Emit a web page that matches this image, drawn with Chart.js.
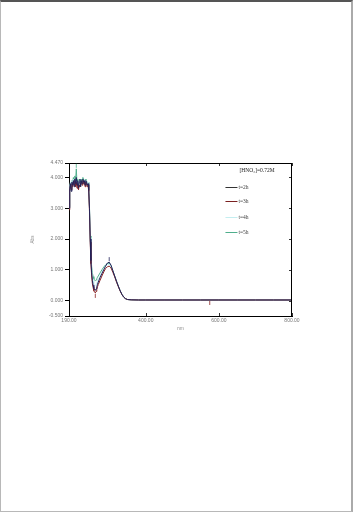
<!DOCTYPE html>
<html>
<head>
<meta charset="utf-8">
<script src="https://cdn.jsdelivr.net/npm/chart.js@4"></script>
<style>
    html, body { margin: 0; padding: 0; background: #fff; }
    #page {
        position: relative;
        width: 353px;
        height: 512px;
        box-sizing: border-box;
        border: 1px solid #b8b8b8;
        border-top: 2px solid #555;
        border-right: 2px solid #aaa;
    }
    #wrap { position: absolute; left: -1px; top: 138px; width: 320px; height: 200px; }
</style>
</head>
<body>
<div id="page">
    <div id="wrap"><canvas id="spectrum"></canvas></div>
</div>
<script>
//-- Data //
const wavelengths = [
    190, 192, 194, 196, 198, 200, 202, 204, 206, 208, 210, 212, 214, 216,
    218, 220, 222, 224, 226, 228, 230, 232, 234, 236, 238, 240, 242, 244,
    246, 248, 250, 252, 254, 256, 258, 260, 262, 264, 266, 268, 270,
    275, 280, 285, 290, 295, 300, 305, 310, 315, 320, 325, 330, 335, 340, 345, 350,
    360, 380, 400, 450, 500, 550, 600, 650, 700, 750, 800
];
const tail = [0.025, 0.02, 0.02, 0.02, 0.02, 0.02, 0.02, 0.02, 0.02, 0.02, 0.02];

const absT2 = [
    3.0, 3.65, 3.8, 3.55, 3.85, 3.75, 3.9, 3.7, 3.95, 3.8, 4.0, 3.75, 3.9, 3.65,
    3.85, 3.95, 3.7, 3.9, 3.8, 3.95, 3.85, 3.9, 3.75, 3.9, 3.85, 3.75, 3.8, 3.6,
    3.0, 2.0, 1.3, 0.9, 0.65, 0.5, 0.4, 0.35, 0.33, 0.38, 0.45, 0.53, 0.6,
    0.75, 0.88, 1.0, 1.12, 1.22, 1.25, 1.15, 0.97, 0.8, 0.63, 0.47, 0.32, 0.2, 0.11, 0.06, 0.035,
    ...tail
];
const absT3 = [
    2.95, 3.6, 3.75, 3.6, 3.8, 3.7, 3.85, 3.75, 3.9, 3.7, 3.85, 3.65, 3.8, 3.6,
    3.75, 3.7, 3.8, 3.85, 3.75, 3.9, 3.8, 3.85, 3.7, 3.85, 3.8, 3.7, 3.75, 3.55,
    2.9, 1.9, 1.2, 0.8, 0.55, 0.42, 0.32, 0.27, 0.25, 0.3, 0.37, 0.45, 0.52,
    0.66, 0.8, 0.93, 1.04, 1.1, 1.12, 1.06, 0.92, 0.77, 0.6, 0.45, 0.31, 0.19, 0.11, 0.06, 0.035,
    ...tail
];
const absT4 = [
    3.0, 3.7, 3.85, 3.6, 3.9, 3.8, 3.95, 3.75, 3.9, 3.85, 3.95, 3.8, 3.85, 3.7,
    3.9, 3.9, 3.75, 3.85, 3.85, 3.9, 3.8, 3.95, 3.8, 3.85, 3.9, 3.8, 3.85, 3.65,
    3.0, 2.05, 1.4, 1.0, 0.78, 0.64, 0.56, 0.52, 0.5, 0.52, 0.57, 0.63, 0.68,
    0.8, 0.92, 1.03, 1.12, 1.17, 1.18, 1.1, 0.95, 0.79, 0.62, 0.46, 0.31, 0.2, 0.11, 0.06, 0.035,
    ...tail
];
const absT5 = [
    3.05, 3.7, 3.8, 3.65, 3.9, 3.8, 4.0, 3.8, 4.05, 3.9, 4.28, 3.8, 3.95, 3.7,
    3.85, 3.9, 3.75, 3.95, 3.85, 4.0, 3.9, 3.9, 3.8, 3.95, 3.9, 3.8, 3.85, 3.65,
    3.05, 2.1, 1.5, 1.1, 0.9, 0.78, 0.7, 0.66, 0.65, 0.67, 0.71, 0.76, 0.8,
    0.9, 1.0, 1.09, 1.16, 1.2, 1.22, 1.13, 0.97, 0.8, 0.63, 0.47, 0.32, 0.2, 0.11, 0.06, 0.035,
    ...tail
];

const seriesLabels = ['t=2h', 't=3h', 't=4h', 't=5h'];
const seriesColors = ['#22225a', '#8b2424', '#c4eef0', '#4fae8c'];
const legendColors = ['#333333', '#7a2020', '#c4eef0', '#4fae8c'];
const legendTitle = '[HNO\u2083]=0.72M';

const xTicks = [190, 400, 600, 800];
const yTicks = [-0.5, 0, 1, 2, 3, 4, 4.47];

// small peak-pick marks: [wavelength, absorbance, color index]
const peakMarks = [
    [210, 4.28, 3],
    [300, 1.25, 0],
    [262, 0.25, 1],
    [575, 0.02, 1]
];

//-- Helpers //
const allAbs = [absT2, absT3, absT4, absT5];
const toPoints = values => wavelengths.map((w, i) => ({ x: w, y: values[i] }));

// frame, inward ticks, legend, peak marks
const framePlugin = {
    id: 'frame',
    afterDatasetsDraw(chart) {
        const { ctx, chartArea: a, scales } = chart;
        const x = scales.x;
        const y = scales.y;
        ctx.save();
        ctx.strokeStyle = '#000';
        ctx.lineWidth = 1;
        ctx.beginPath();
        ctx.moveTo(a.left, a.top + 0.5);
        ctx.lineTo(a.right, a.top + 0.5);
        ctx.moveTo(a.right - 0.5, a.top);
        ctx.lineTo(a.right - 0.5, a.bottom);
        ctx.stroke();

        ctx.lineWidth = 0.8;
        ctx.beginPath();
        for (const t of xTicks) {
            const px = Math.round(x.getPixelForValue(t)) + 0.5;
            ctx.moveTo(px, a.bottom);
            ctx.lineTo(px, a.bottom - 3);
            ctx.moveTo(px, a.top);
            ctx.lineTo(px, a.top + 3);
        }
        for (const t of yTicks) {
            const py = Math.round(y.getPixelForValue(t)) + 0.5;
            ctx.moveTo(a.right, py);
            ctx.lineTo(a.right - 3, py);
        }
        ctx.stroke();

        // peak marks
        for (const [w, v, ci] of peakMarks) {
            const px = x.getPixelForValue(w);
            const py = y.getPixelForValue(v);
            const up = v > 0.5;
            ctx.strokeStyle = seriesColors[ci] === '#c4eef0' ? '#8cc' : seriesColors[ci];
            ctx.beginPath();
            ctx.moveTo(px, py + (up ? -1 : 1));
            ctx.lineTo(px, py + (up ? -5 : 5));
            ctx.stroke();
        }

        // legend
        ctx.fillStyle = '#222';
        ctx.font = '5.5px "Liberation Serif", serif';
        ctx.textBaseline = 'middle';
        ctx.textAlign = 'left';
        const lx = x.getPixelForValue(618);
        ctx.fillText(legendTitle, lx + 14, y.getPixelForValue(4.22));
        const rows = [3.7, 3.22, 2.73, 2.24];
        seriesLabels.forEach((label, i) => {
            const ry = Math.round(y.getPixelForValue(rows[i])) + 0.5;
            ctx.strokeStyle = legendColors[i];
            ctx.lineWidth = 1;
            ctx.beginPath();
            ctx.moveTo(lx, ry);
            ctx.lineTo(lx + 12, ry);
            ctx.stroke();
            ctx.fillStyle = '#444';
            ctx.fillText(label, lx + 13, ry);
        });
        ctx.restore();
    }
};

//-- Chart //
const ctx = document.getElementById('spectrum');

new Chart(ctx, {
    type: 'line',
    data: {
        datasets: allAbs.map((values, i) => ({
            label: seriesLabels[i],
            data: toPoints(values),
            borderColor: seriesColors[i],
            borderWidth: 1,
            pointRadius: 0,
            tension: 0,
            fill: false
        }))
    },
    options: {
        responsive: true,
        maintainAspectRatio: false,
        animation: false,
        events: [],
        layout: { padding: { top: 23, right: 28, bottom: 9, left: 0 } },
        plugins: {
            legend: { display: false },
            tooltip: { enabled: false }
        },
        scales: {
            x: {
                type: 'linear',
                min: 190,
                max: 800,
                afterBuildTicks: scale => {
                    scale.ticks = xTicks.map(v => ({ value: v }));
                },
                afterFit: scale => {
                    scale.height = 15;
                },
                ticks: {
                    color: '#777',
                    font: { family: 'Liberation Sans', size: 5 },
                    padding: 2,
                    maxRotation: 0,
                    callback: v => v.toFixed(2)
                },
                grid: { display: true, drawOnChartArea: false, drawTicks: false },
                border: { color: '#000', width: 1 },
                title: {
                    display: true,
                    text: 'nm',
                    color: '#888',
                    font: { family: 'Liberation Sans', size: 4.5 },
                    padding: { top: 0, bottom: 0 }
                }
            },
            y: {
                min: -0.5,
                max: 4.47,
                afterBuildTicks: scale => {
                    scale.ticks = yTicks.map(v => ({ value: v }));
                },
                afterFit: scale => {
                    scale.width = 69;
                },
                ticks: {
                    color: '#777',
                    font: { family: 'Liberation Sans', size: 5 },
                    padding: 2,
                    callback: v => v.toFixed(3)
                },
                grid: { display: true, drawOnChartArea: false, drawTicks: true, tickLength: 4, color: '#000' },
                border: { color: '#000', width: 1 },
                title: {
                    display: true,
                    text: 'Abs',
                    color: '#888',
                    font: { family: 'Liberation Sans', size: 4.5 },
                    padding: { top: 30, bottom: 0 }
                }
            }
        }
    },
    plugins: [framePlugin]
});
</script>
</body>
</html>
